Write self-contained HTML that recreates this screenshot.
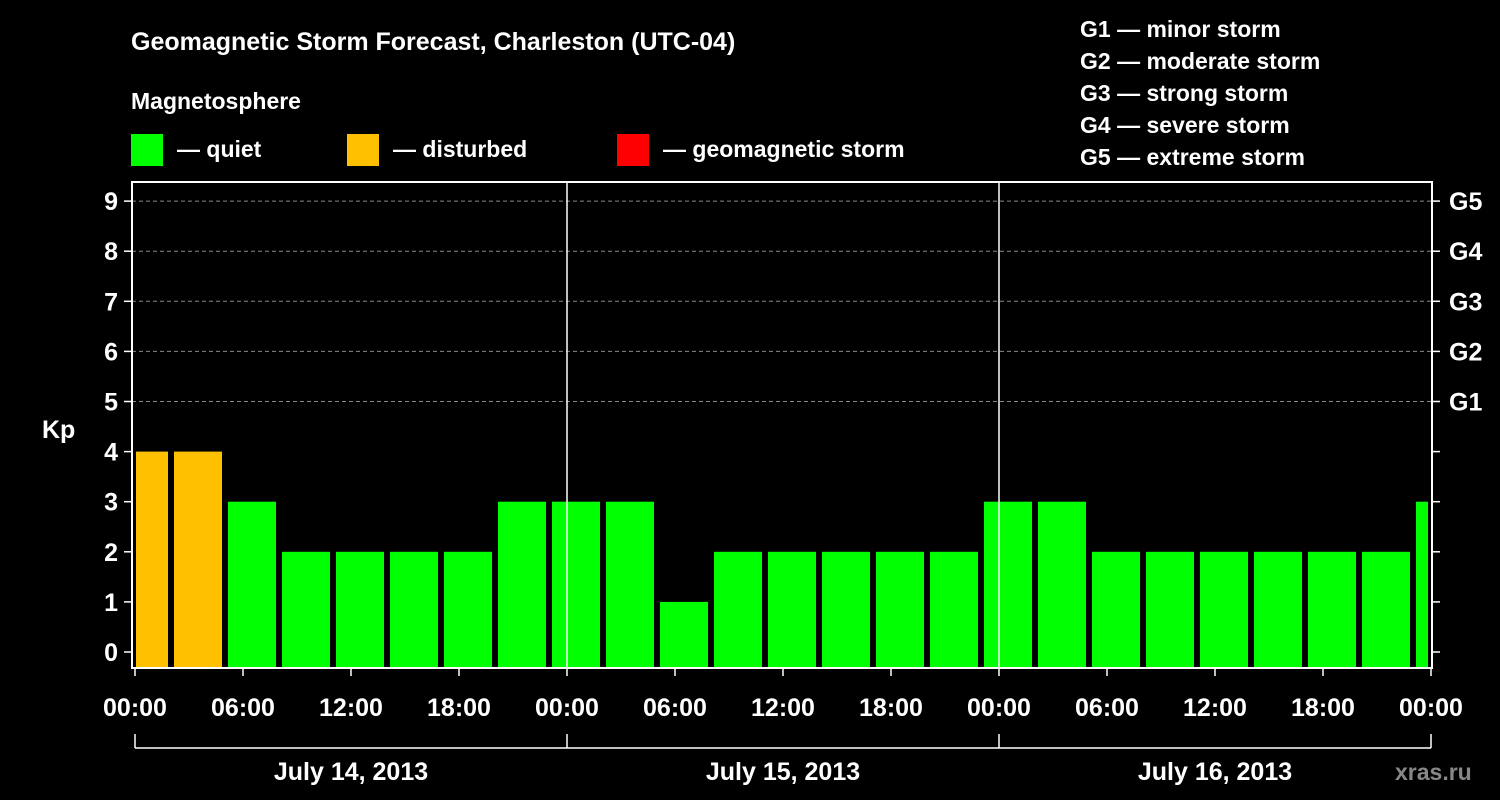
<!DOCTYPE html>
<html><head><meta charset="utf-8"><style>
html,body{margin:0;padding:0;background:#000;}
svg{display:block;font-family:"Liberation Sans",Arial,sans-serif;font-weight:bold;}
</style></head><body>
<svg id="chart" width="1500" height="800" viewBox="0 0 1500 800">
<rect x="0" y="0" width="1500" height="800" fill="#000"/>
<text x="131" y="50" fill="#fff" font-size="25">Geomagnetic Storm Forecast, Charleston (UTC-04)</text>
<text x="131" y="109" fill="#fff" font-size="23">Magnetosphere</text>
<g><rect x="131" y="134" width="32" height="32" fill="#00ff00"/><text x="177" y="157" fill="#fff" font-size="23">— quiet</text></g>
<g><rect x="347" y="134" width="32" height="32" fill="#ffc000"/><text x="393" y="157" fill="#fff" font-size="23">— disturbed</text></g>
<g><rect x="617" y="134" width="32" height="32" fill="#ff0000"/><text x="663" y="157" fill="#fff" font-size="23">— geomagnetic storm</text></g>
<g fill="#fff" font-size="23">
<text x="1080" y="37">G1 — minor storm</text>
<text x="1080" y="69">G2 — moderate storm</text>
<text x="1080" y="101">G3 — strong storm</text>
<text x="1080" y="133">G4 — severe storm</text>
<text x="1080" y="165">G5 — extreme storm</text>
</g>
<text x="42" y="438" fill="#fff" font-size="25">Kp</text>
<g id="grid"></g><g id="bars"></g><g id="axes"></g>
<text x="1395" y="780" fill="#888" font-size="23">xras.ru</text>
</svg>
<script>
const kpValues=[4,4,3,2,2,2,2,3,3,3,1,2,2,2,2,2,3,3,2,2,2,2,2,2,3];
const yTicks=[0,1,2,3,4,5,6,7,8,9];
const gLabels=["G1","G2","G3","G4","G5"];
const xTickLabels=["00:00","06:00","12:00","18:00","00:00","06:00","12:00","18:00","00:00","06:00","12:00","18:00","00:00"];
const dayLabels=["July 14, 2013","July 15, 2013","July 16, 2013"];
const NS="http://www.w3.org/2000/svg";
const L=132,R=1432,T=182,B=668,X0=135,PXH=18;
const y=v=>652-v*50.1;
const x=h=>X0+h*PXH;
function mk(tag,attrs,parent,text){const e=document.createElementNS(NS,tag);for(const k in attrs)e.setAttribute(k,attrs[k]);if(text!==undefined)e.textContent=text;parent.appendChild(e);return e;}
const grid=document.getElementById('grid'),bars=document.getElementById('bars'),axes=document.getElementById('axes');
yTicks.forEach(v=>{if(v>=5){const g=mk('line',{x1:L,x2:R,y1:y(v),y2:y(v),stroke:'#888','stroke-dasharray':'4,3','stroke-width':1},grid);

}});
kpValues.forEach((v,k)=>{const c=x(0.5+3*k);let x1=Math.max(c-24,L+4),x2=Math.min(c+24,R-4);if(x2<=x1)return;
const col=v>=5?'#ff0000':(v>=4?'#ffc000':'#00ff00');
const r=mk('rect',{x:x1,y:y(v),width:x2-x1,height:B-y(v),fill:col},bars);

});
[1,2].forEach(d=>{const l=mk('line',{x1:x(24*d),x2:x(24*d),y1:T,y2:B,stroke:'#fff','stroke-width':1.5},axes);

});
const fr=mk('rect',{x:L,y:T,width:R-L,height:B-T,fill:'none',stroke:'#fff','stroke-width':2},axes);


yTicks.forEach(v=>{mk('line',{x1:L-8,x2:L,y1:y(v),y2:y(v),stroke:'#fff','stroke-width':1.5},axes);mk('line',{x1:R,x2:R+8,y1:y(v),y2:y(v),stroke:'#fff','stroke-width':1.5},axes);
const t=mk('text',{x:L-14,y:y(v)+9,fill:'#fff','font-size':25,'text-anchor':'end'},axes,String(v));

});
gLabels.forEach((g,i)=>{const t=mk('text',{x:1449,y:y(5+i)+9,fill:'#fff','font-size':25},axes,g);

});
xTickLabels.forEach((lab,i)=>{const xx=x(6*i);mk('line',{x1:xx,x2:xx,y1:B,y2:B+8,stroke:'#fff','stroke-width':1.5},axes);
const t=mk('text',{x:xx,y:716,fill:'#fff','font-size':25,'text-anchor':'middle'},axes,lab);

});
mk('line',{x1:x(0),x2:x(72),y1:748,y2:748,stroke:'#fff','stroke-width':1.5},axes);
[0,1,2,3].forEach(d=>mk('line',{x1:x(24*d),x2:x(24*d),y1:734,y2:748,stroke:'#fff','stroke-width':1.5},axes));
dayLabels.forEach((lab,d)=>{const t=mk('text',{x:x(24*d+12),y:780,fill:'#fff','font-size':25,'text-anchor':'middle'},axes,lab);

});
</script>
</body></html>
